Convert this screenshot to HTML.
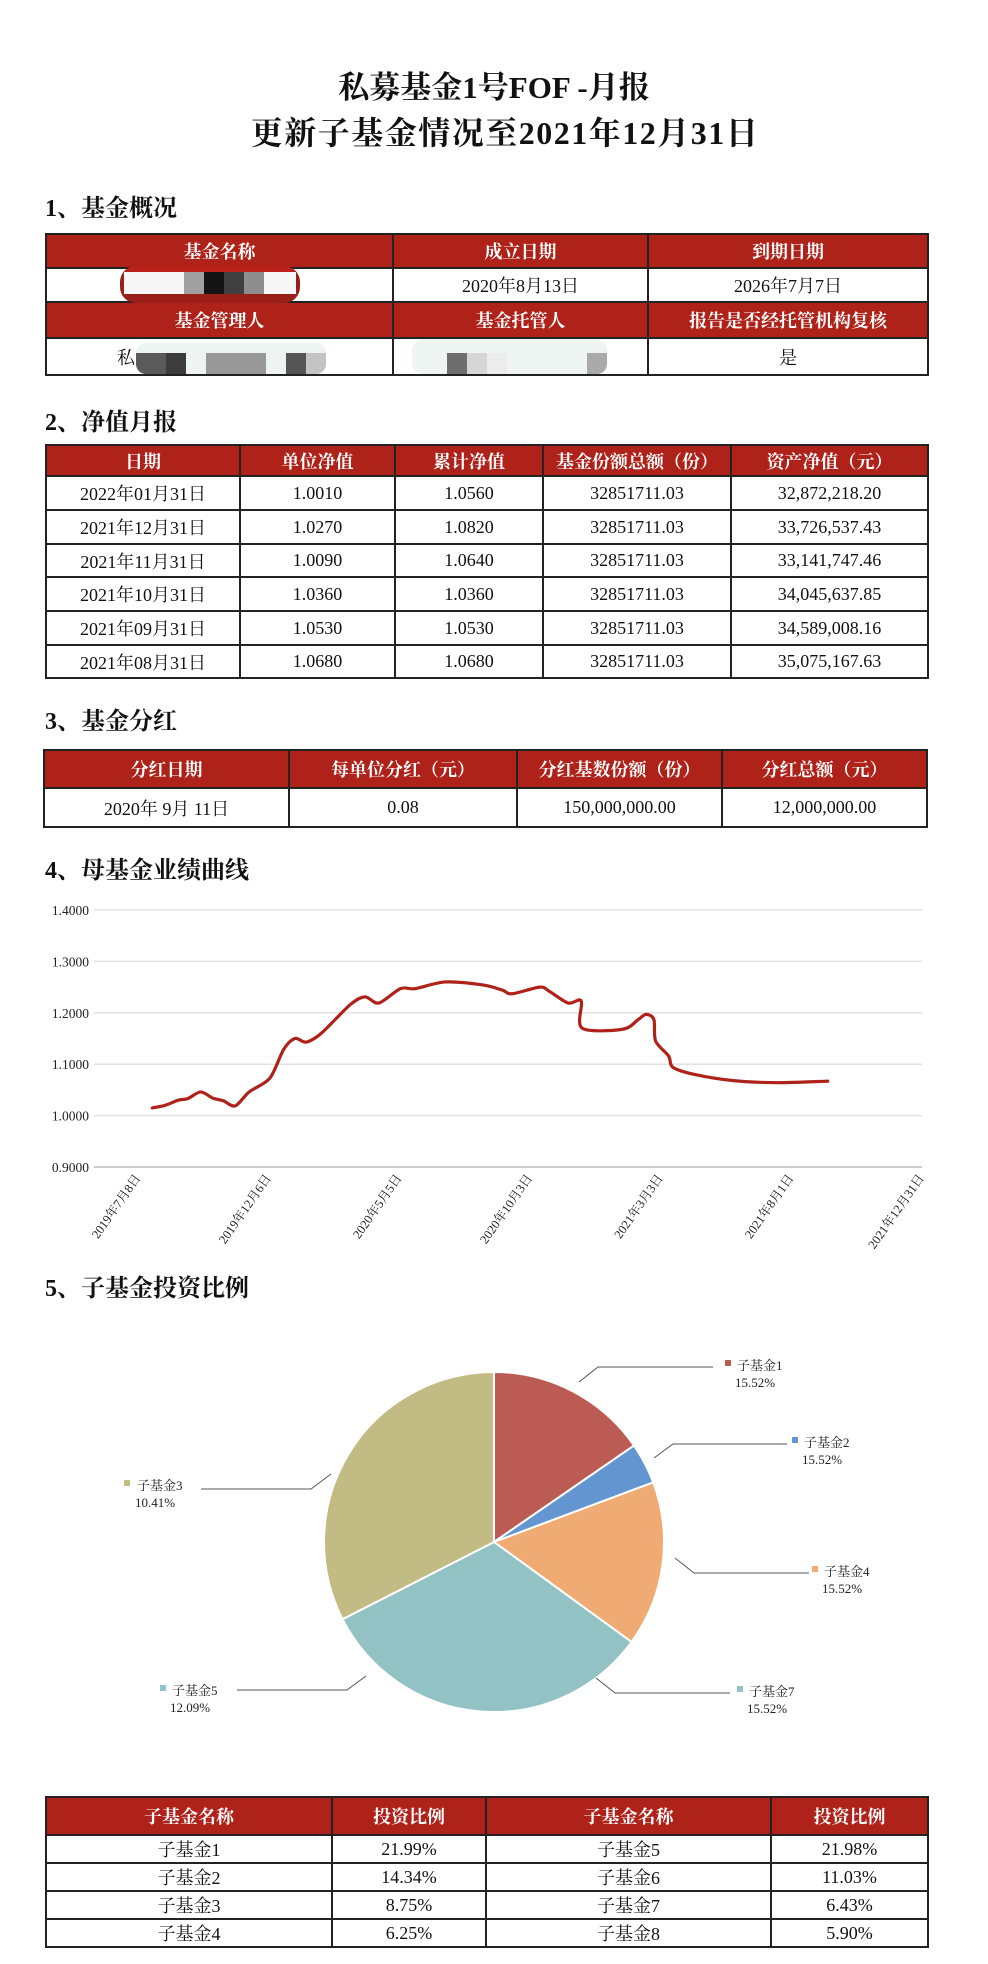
<!DOCTYPE html>
<html><head><meta charset="utf-8">
<style>
body{margin:0;background:#fff;}
#page{position:relative;width:988px;height:1964px;overflow:hidden;background:#fff;font-family:"Liberation Serif","Noto Serif CJK SC",serif;color:#111;}
.title{position:absolute;left:0;width:988px;text-align:center;font-weight:bold;font-size:31px;}
.sec{position:absolute;left:45px;font-weight:bold;font-size:24px;}
table{position:absolute;border-collapse:collapse;table-layout:fixed;}
td{border:2px solid #222;text-align:center;font-size:18px;padding:0;}
tr.h td{background:#AE221A;color:#fff;font-weight:bold;}
.blk{position:absolute;}
</style></head><body>
<div id="page">
<div class="title" style="top:62px">私募基金1号FOF -月报</div>
<div class="title" style="top:108px;left:11px;font-size:32px;letter-spacing:1.5px">更新子基金情况至2021年12月31日</div>

<div class="sec" style="top:188px">1、基金概况</div>
<table style="left:45px;top:233px;width:882px">
<colgroup><col style="width:347px"><col style="width:255px"><col style="width:280px"></colgroup>
<tr class="h" style="height:34px"><td>基金名称</td><td>成立日期</td><td>到期日期</td></tr>
<tr style="height:34px"><td></td><td>2020年8月13日</td><td>2026年7月7日</td></tr>
<tr class="h" style="height:36px"><td>基金管理人</td><td>基金托管人</td><td>报告是否经托管机构复核</td></tr>
<tr style="height:37px"><td style="text-align:left;padding-left:70px">私</td><td></td><td>是</td></tr>
</table>
<div class="blk" style="left:120px;top:266px;width:180px;height:37px;border-radius:16px;background:#9a1f1a;overflow:hidden">
 <div class="blk" style="left:0;top:0;width:180px;height:6px;background:#b8221b"></div>
 <div class="blk" style="left:4px;top:6px;width:172px;height:22px;background:#f7f7f7"></div>
 <div class="blk" style="left:64px;top:6px;width:20px;height:22px;background:#a0a0a0"></div>
 <div class="blk" style="left:84px;top:6px;width:20px;height:22px;background:#141414"></div>
 <div class="blk" style="left:104px;top:6px;width:20px;height:22px;background:#404040"></div>
 <div class="blk" style="left:124px;top:6px;width:20px;height:22px;background:#8e8e8e"></div>
</div>
<div class="blk" style="left:136px;top:343px;width:190px;height:31px;border-radius:10px;background:#eef4f2;overflow:hidden">
 <div class="blk" style="left:0;top:10px;width:50px;height:21px;background:#5a5a5a"></div>
 <div class="blk" style="left:30px;top:10px;width:20px;height:21px;background:#3c3c3c"></div>
 <div class="blk" style="left:70px;top:10px;width:60px;height:21px;background:#999"></div>
 <div class="blk" style="left:150px;top:10px;width:20px;height:21px;background:#555"></div>
 <div class="blk" style="left:170px;top:10px;width:20px;height:21px;background:#c4c4c4"></div>
</div>
<div class="blk" style="left:412px;top:340px;width:195px;height:34px;border-radius:10px;background:#eef5f3;overflow:hidden">
 <div class="blk" style="left:35px;top:13px;width:20px;height:21px;background:#6e6e6e"></div>
 <div class="blk" style="left:55px;top:13px;width:20px;height:21px;background:#d6d6d6"></div>
 <div class="blk" style="left:75px;top:13px;width:20px;height:21px;background:#ececec"></div>
 <div class="blk" style="left:175px;top:13px;width:20px;height:21px;background:#aaa"></div>
</div>

<div class="sec" style="top:402px">2、净值月报</div>
<table style="left:45px;top:444px;width:882px">
<colgroup><col style="width:194px"><col style="width:155px"><col style="width:148px"><col style="width:188px"><col style="width:197px"></colgroup>
<tr class="h" style="height:31px"><td>日期</td><td>单位净值</td><td>累计净值</td><td>基金份额总额（份）</td><td>资产净值（元）</td></tr>
<tr style="height:34px"><td>2022年01月31日</td><td>1.0010</td><td>1.0560</td><td>32851711.03</td><td>32,872,218.20</td></tr>
<tr style="height:34px"><td>2021年12月31日</td><td>1.0270</td><td>1.0820</td><td>32851711.03</td><td>33,726,537.43</td></tr>
<tr style="height:33px"><td>2021年11月31日</td><td>1.0090</td><td>1.0640</td><td>32851711.03</td><td>33,141,747.46</td></tr>
<tr style="height:34px"><td>2021年10月31日</td><td>1.0360</td><td>1.0360</td><td>32851711.03</td><td>34,045,637.85</td></tr>
<tr style="height:34px"><td>2021年09月31日</td><td>1.0530</td><td>1.0530</td><td>32851711.03</td><td>34,589,008.16</td></tr>
<tr style="height:33px"><td>2021年08月31日</td><td>1.0680</td><td>1.0680</td><td>32851711.03</td><td>35,075,167.63</td></tr>
</table>

<div class="sec" style="top:701px">3、基金分红</div>
<table style="left:43px;top:749px;width:883px">
<colgroup><col style="width:245px"><col style="width:228px"><col style="width:205px"><col style="width:205px"></colgroup>
<tr class="h" style="height:38px"><td>分红日期</td><td>每单位分红（元）</td><td>分红基数份额（份）</td><td>分红总额（元）</td></tr>
<tr style="height:39px"><td>2020年 9月 11日</td><td>0.08</td><td>150,000,000.00</td><td>12,000,000.00</td></tr>
</table>

<div class="sec" style="top:850px">4、母基金业绩曲线</div>
<svg id="line" width="988" height="400" viewBox="0 850 988 400" style="position:absolute;left:0;top:850px"></svg>

<div class="sec" style="top:1268px">5、子基金投资比例</div>
<svg id="pie" width="988" height="480" viewBox="0 1300 988 480" style="position:absolute;left:0;top:1300px"></svg>

<table style="left:45px;top:1796px;width:882px">
<colgroup><col style="width:286px"><col style="width:154px"><col style="width:285px"><col style="width:157px"></colgroup>
<tr class="h" style="height:38px"><td>子基金名称</td><td>投资比例</td><td>子基金名称</td><td>投资比例</td></tr>
<tr style="height:28px"><td>子基金1</td><td>21.99%</td><td>子基金5</td><td>21.98%</td></tr>
<tr style="height:28px"><td>子基金2</td><td>14.34%</td><td>子基金6</td><td>11.03%</td></tr>
<tr style="height:28px"><td>子基金3</td><td>8.75%</td><td>子基金7</td><td>6.43%</td></tr>
<tr style="height:27px"><td>子基金4</td><td>6.25%</td><td>子基金8</td><td>5.90%</td></tr>
</table>
</div>
<script>
// ---- line chart data ----
const tickDays=[0,151,302,453,604,755,906];
const tickLabels=["2019年7月8日","2019年12月6日","2020年5月5日","2020年10月3日","2021年3月3日","2021年8月1日","2021年12月31日"];
const yTicks=[0.9,1.0,1.1,1.2,1.3,1.4];
const navDays=[13,28,43,54,69,83,95,109,125,149,165,178,191,209,242,259,275,300,317,352,396,418,429,461,472,494,509,510,557,575,584,593,595,610,615,640,685,736,794];
const navValues=[1.015,1.020,1.030,1.033,1.046,1.034,1.029,1.019,1.046,1.073,1.129,1.150,1.143,1.161,1.216,1.231,1.219,1.247,1.247,1.260,1.254,1.244,1.237,1.250,1.242,1.219,1.223,1.170,1.168,1.187,1.197,1.187,1.145,1.116,1.094,1.080,1.068,1.064,1.067];
// ---- pie data ----
const pieShares=[15.4,3.9,15.7,32.5,32.5];
const pieLegendNames=["子基金1","子基金2","子基金4","子基金7","子基金5","子基金3"];
const pieLegendPct=["15.52%","15.52%","15.52%","15.52%","12.09%","10.41%"];

const NS="http://www.w3.org/2000/svg";
function mk(parent,tag,attrs,text){const e=document.createElementNS(NS,tag);for(const k in attrs)e.setAttribute(k,attrs[k]);if(text!==undefined)e.textContent=text;parent.appendChild(e);return e;}
const X0=141,XS=130.6/151;
const xd=d=>X0+d*XS;
const yv=v=>1167-(v-0.9)*514;
const line=document.getElementById('line');
yTicks.forEach((t,i)=>{
  const g=mk(line,'line',{x1:94,x2:922,y1:yv(t),y2:yv(t),stroke:i===0?'#ccc':'#e2e2e2','stroke-width':i===0?2:1.5});
  
  
  const l=mk(line,'text',{x:89,y:yv(t)+5,'text-anchor':'end','font-size':13.5,'font-family':'Liberation Serif, serif',fill:'#222'},t.toFixed(4));
  
  
});
tickDays.forEach((d,i)=>{
  const x=xd(d);
  const l=mk(line,'text',{x:x,y:1178,'text-anchor':'end','font-size':12.5,'font-family':'Liberation Serif, Noto Serif CJK SC, serif',fill:'#222',transform:`rotate(-55 ${x} 1178)`},tickLabels[i]);
  
  
});
const pts=navDays.map((d,i)=>[xd(d),yv(navValues[i])]);
let dstr=`M${pts[0][0]},${pts[0][1]}`;
for(let i=0;i<pts.length-1;i++){
  const p0=pts[Math.max(0,i-1)],p1=pts[i],p2=pts[i+1],p3=pts[Math.min(pts.length-1,i+2)];
  const t=0.15;
  dstr+=` C${p1[0]+(p2[0]-p0[0])*t},${p1[1]+(p2[1]-p0[1])*t} ${p2[0]-(p3[0]-p1[0])*t},${p2[1]-(p3[1]-p1[1])*t} ${p2[0]},${p2[1]}`;
}
const path=mk(line,'path',{d:dstr,fill:'none',stroke:'#AE221A','stroke-width':3.2,'stroke-linejoin':'round','stroke-linecap':'round'});



// pie
const pie=document.getElementById('pie');
const colors=["#BC5A54","#6396D0","#F0AB74","#92C2C4","#C2BB83"];
const cx=494,cy=1542,r=170;
const total=pieShares.reduce((a,b)=>a+b,0);
let a=0;
pieShares.forEach((s,i)=>{
  const a1=a+s/total*2*Math.PI;
  const x0=cx+r*Math.sin(a),y0=cy-r*Math.cos(a),x1=cx+r*Math.sin(a1),y1=cy-r*Math.cos(a1);
  const p=mk(pie,'path',{d:`M${cx},${cy} L${x0},${y0} A${r},${r} 0 ${a1-a>Math.PI?1:0} 1 ${x1},${y1} Z`,fill:colors[i],stroke:'#fff','stroke-width':2});
  
  
  a=a1;
});
const legendPos=[
 {pts:"579,1382 598,1367 713,1367",sx:725,sy:1360,tx:737,ty:1370,c:"#BC5A54"},
 {pts:"654,1458 673,1444 787,1444",sx:792,sy:1437,tx:804,ty:1447,c:"#6396D0"},
 {pts:"675,1558 694,1573 809,1573",sx:812,sy:1566,tx:824,ty:1576,c:"#F0AB74"},
 {pts:"596,1678 615,1693 730,1693",sx:737,sy:1686,tx:749,ty:1696,c:"#92C2C4"},
 {pts:"366,1676 347,1690 237,1690",sx:160,sy:1685,tx:172,ty:1695,c:"#92C2C4"},
 {pts:"331,1474 311,1489 201,1489",sx:124,sy:1480,tx:137,ty:1490,c:"#C2BB83"}
];
legendPos.forEach((L,i)=>{
  const pl=mk(pie,'polyline',{points:L.pts,fill:'none',stroke:'#555','stroke-width':1});
  
  
  const sq=mk(pie,'rect',{x:L.sx,y:L.sy,width:6,height:6,fill:L.c});
  
  
  const t1=mk(pie,'text',{x:L.tx,y:L.ty,'font-size':13,'font-family':'Liberation Serif, Noto Serif CJK SC, serif',fill:'#222'},pieLegendNames[i]);
  
  
  const t2=mk(pie,'text',{x:L.tx-2,y:L.ty+17,'font-size':13,'font-family':'Liberation Serif, serif',fill:'#222'},pieLegendPct[i]);
  
  
});
</script>
</body></html>
